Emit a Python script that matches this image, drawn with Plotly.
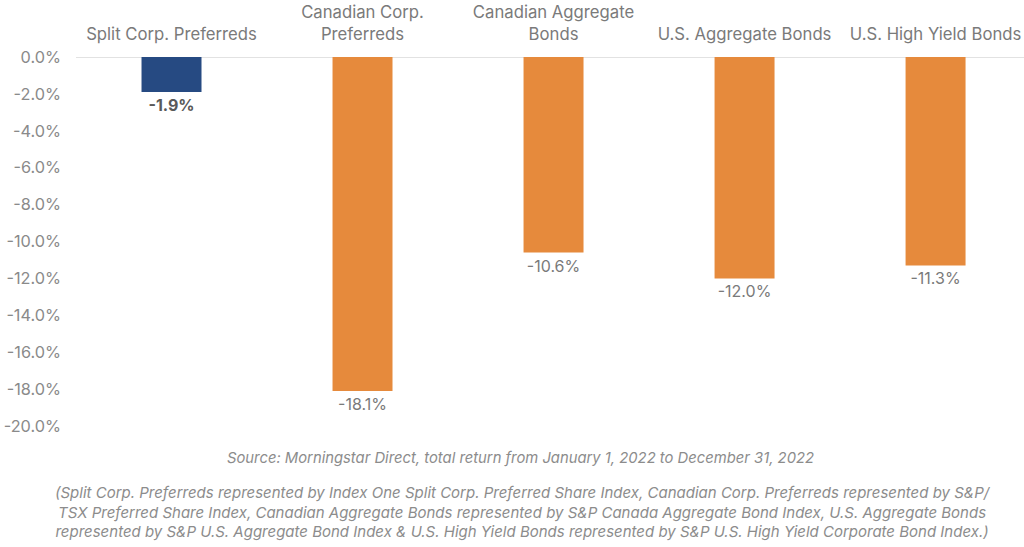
import plotly.graph_objects as go

categorias = ['Split Corp. Preferreds', 'Canadian Corp.<br>Preferreds', 'Canadian Aggregate<br>Bonds',
              'U.S. Aggregate Bonds', 'U.S. High Yield Bonds']
retornos = [-1.9, -18.1, -10.6, -12.0, -11.3]
etiquetas = ['<b>-1.9%</b>', '-18.1%', '-10.6%', '-12.0%', '-11.3%']
colores = ['#264a82', '#e68a3c', '#e68a3c', '#e68a3c', '#e68a3c']

ticks_y = [0, -2, -4, -6, -8, -10, -12, -14, -16, -18, -20]
ticks_y_txt = ['0.0%', '-2.0%', '-4.0%', '-6.0%', '-8.0%', '-10.0%', '-12.0%', '-14.0%', '-16.0%', '-18.0%', '-20.0%']

fuente = 'Source: Morningstar Direct, total return from January 1, 2022 to December 31, 2022'
nota = ('(Split Corp. Preferreds represented by Index One Split Corp. Preferred Share Index, Canadian Corp. Preferreds represented by S&P/<br>'
        'TSX Preferred Share Index, Canadian Aggregate Bonds represented by S&P Canada Aggregate Bond Index, U.S. Aggregate Bonds<br>'
        'represented by S&P U.S. Aggregate Bond Index & U.S. High Yield Bonds represented by S&P U.S. High Yield Corporate Bond Index.)')

x = list(range(len(categorias)))

fig = go.Figure()
fig.add_bar(x=x, y=retornos, marker=dict(color=colores, line=dict(width=0)), width=0.314,
            text=etiquetas, textposition='outside', cliponaxis=False,
            textfont=dict(size=16, color=['#595959'] + ['#7a7a7a'] * 4))

fig.update_layout(
    width=1024, height=547,
    margin=dict(l=76, r=0, t=57, b=121),
    plot_bgcolor='white', paper_bgcolor='white',
    font=dict(family='Inter, Lato, sans-serif', color='#7f7f7f'),
    showlegend=False,
    xaxis=dict(side='top', range=[-0.5, 4.463], tickvals=x, ticktext=categorias, automargin=False,
               showgrid=False, showline=False, zeroline=False, ticks='', ticklabelstandoff=13,
               tickfont=dict(size=16.7, color='#7a7a7a')),
    yaxis=dict(range=[-20, 0], tickvals=ticks_y, ticktext=ticks_y_txt, showgrid=False, automargin=False,
               zeroline=False, showline=False, ticks='', ticklabelstandoff=14,
               tickfont=dict(size=16.3, color='#8a8a8a')),
    shapes=[dict(type='line', xref='paper', yref='y', x0=0, x1=1, y0=0, y1=0,
                 line=dict(color='#d9d9d9', width=1.5), layer='below')],
)

fig.add_annotation(text=fuente, xref='paper', yref='paper', x=0.469, y=-0.087, showarrow=False,
                   font=dict(size=14.8, color='#8c8c8c', style='italic'), xanchor='center', yanchor='middle')
fig.add_annotation(text=nota, xref='paper', yref='paper', x=0.471, y=-0.233, showarrow=False,
                   font=dict(size=15, color='#8c8c8c', style='italic'), xanchor='center', yanchor='middle',
                   align='center')

# quitar el margen de 8px del body para que la figura quede en (0, 0)
fig.write_html('out.html', config={'displayModeBar': False},
               post_script="document.body.style.margin = '0';")
